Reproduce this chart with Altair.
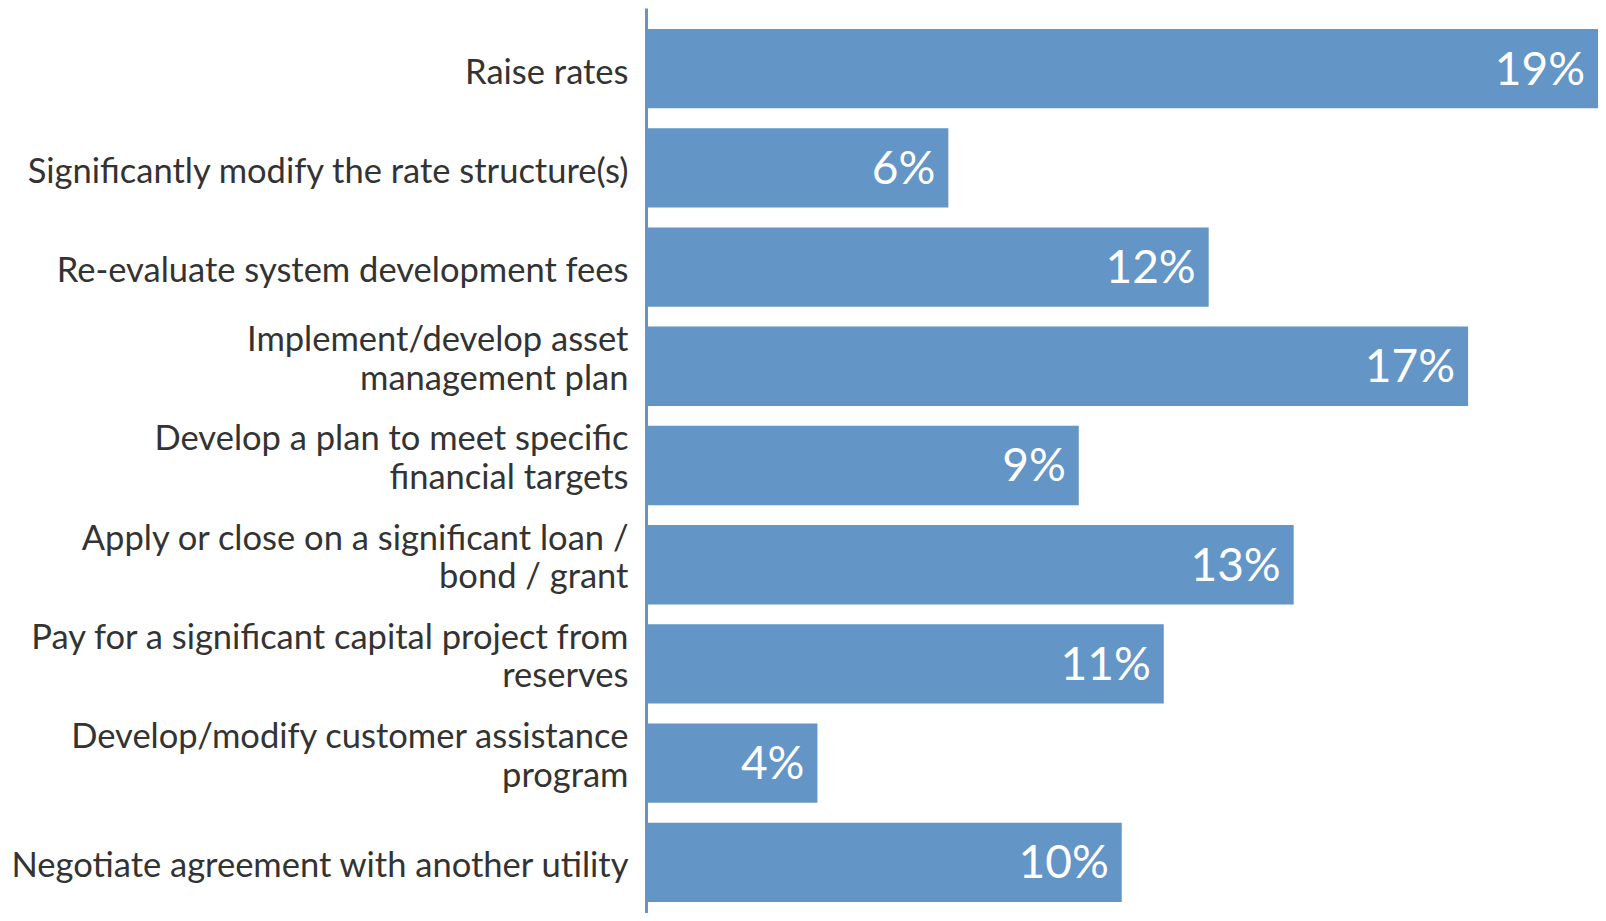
import altair as alt
import pandas as pd

categories = [
    "Raise rates",
    "Significantly modify the rate structure(s)",
    "Re-evaluate system development fees",
    "Implement/develop asset|management plan",
    "Develop a plan to meet specific|financial targets",
    "Apply or close on a significant loan /|bond / grant",
    "Pay for a significant capital project from|reserves",
    "Develop/modify customer assistance|program",
    "Negotiate agreement with another utility",
]
values = [19.49, 6.19, 11.52, 16.83, 8.86, 13.26, 10.60, 3.51, 9.74]
labels = ["19%", "6%", "12%", "17%", "9%", "13%", "11%", "4%", "10%"]

df = pd.DataFrame({"category": categories, "value": values, "label": labels})

BLUE = "#6395C6"
FONT = "Lato"

y_enc = alt.Y(
    "category:N",
    sort=None,
    title=None,
    scale=alt.Scale(paddingInner=0.2, paddingOuter=0.161, align=0.656),
    axis=alt.Axis(
        labelExpr="split(datum.label, '|')",
        labelFont=FONT,
        labelFontSize=34.5,
        labelColor="#333333",
        labelLineHeight=38.5,
        labelPadding=18,
        labelLimit=700,
        labelOffset=alt.condition("indexof(datum.label, '|') >= 0", alt.value(-25), alt.value(5)),
        ticks=False,
        domainColor=BLUE,
        domainWidth=3,
    ),
)
x_enc = alt.X(
    "value:Q",
    axis=None,
    scale=alt.Scale(domain=[0, 19.49], nice=False, zero=True),
)

bars = alt.Chart(df).mark_bar(color=BLUE).encode(x=x_enc, y=y_enc)
text = alt.Chart(df).mark_text(
    align="right", baseline="middle", dx=-13, dy=2, color="white", font=FONT, fontSize=46
).encode(x=x_enc, y=y_enc, text="label:N")

chart = (
    alt.layer(bars, text)
    .properties(
        width=952,
        height=905,
        autosize=alt.AutoSizeParams(type="none"),
        padding={"left": 638, "top": 0, "right": 0, "bottom": 0},
    )
    .configure_view(stroke=None)
)

chart.save("out.html", embed_options={"renderer": "svg", "actions": False})
